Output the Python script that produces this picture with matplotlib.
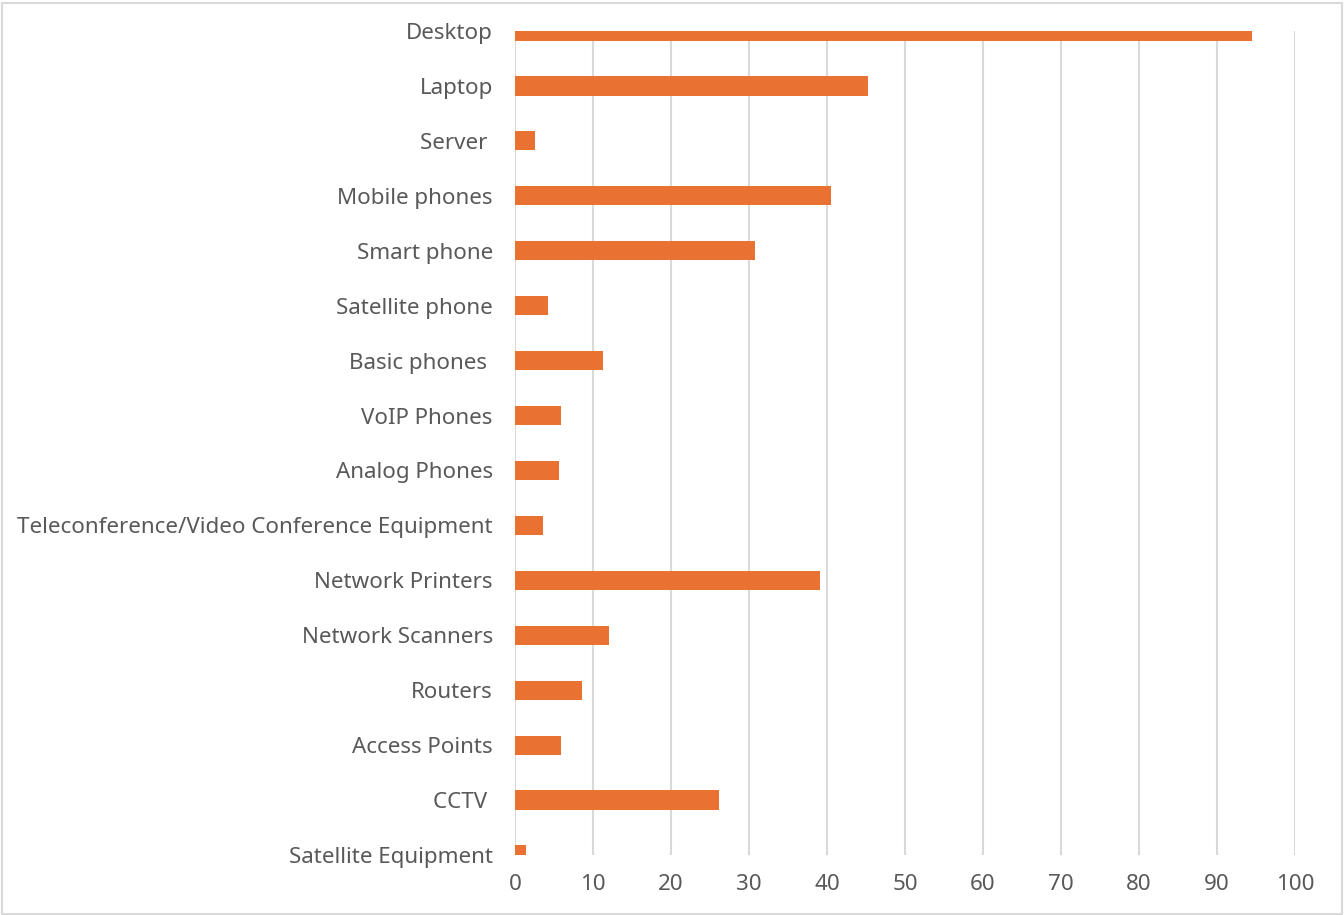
import numpy as np
import matplotlib
matplotlib.use('Agg')
import matplotlib.pyplot as plt
from matplotlib.patches import Rectangle

# categories, top to bottom as in the chart
categories = ['Desktop', 'Laptop', 'Server ', 'Mobile phones', 'Smart phone',
              'Satellite phone', 'Basic phones ', 'VoIP Phones', 'Analog Phones',
              'Teleconference/Video Conference Equipment', 'Network Printers',
              'Network Scanners', 'Routers', 'Access Points', 'CCTV ',
              'Satellite Equipment']
values = [94.5, 45.3, 2.6, 40.5, 30.8, 4.2, 11.3, 5.9, 5.7, 3.6, 39.1, 12.1,
          8.6, 5.9, 26.2, 1.4]
xticks = list(range(0, 101, 10))

plt.rcParams['font.family'] = ['Noto Sans', 'DejaVu Sans']
text_col = '#595959'
grid_col = '#d9d9d9'

fig = plt.figure(figsize=(13.44, 9.15), dpi=100)
ax = fig.add_axes([515 / 1344, 1 - 855 / 915, 780 / 1344, 824 / 915])

# outer chart border
fig.patches.append(Rectangle((0.0015, 0.0015), 0.997, 0.995, transform=fig.transFigure,
                             fill=False, edgecolor=grid_col, linewidth=1.5))

y = np.arange(len(categories))
ax.barh(y, values, height=0.35, color='#E97132', zorder=3)

ax.set_xlim(0, 100)
ax.set_ylim(15, 0)
ax.set_xticks(xticks)
ax.set_yticks(y)
ax.set_yticklabels(categories, va='center_baseline')
ax.xaxis.grid(True, color=grid_col, linewidth=1.5, zorder=0)
ax.set_axisbelow(True)
for s in ax.spines.values():
    s.set_visible(False)
ax.tick_params(axis='y', length=0, pad=16, labelsize=16.1, labelcolor=text_col)
ax.tick_params(axis='x', length=0, pad=14, labelsize=16.1, labelcolor=text_col)

fig.savefig('out.png', dpi=100)
